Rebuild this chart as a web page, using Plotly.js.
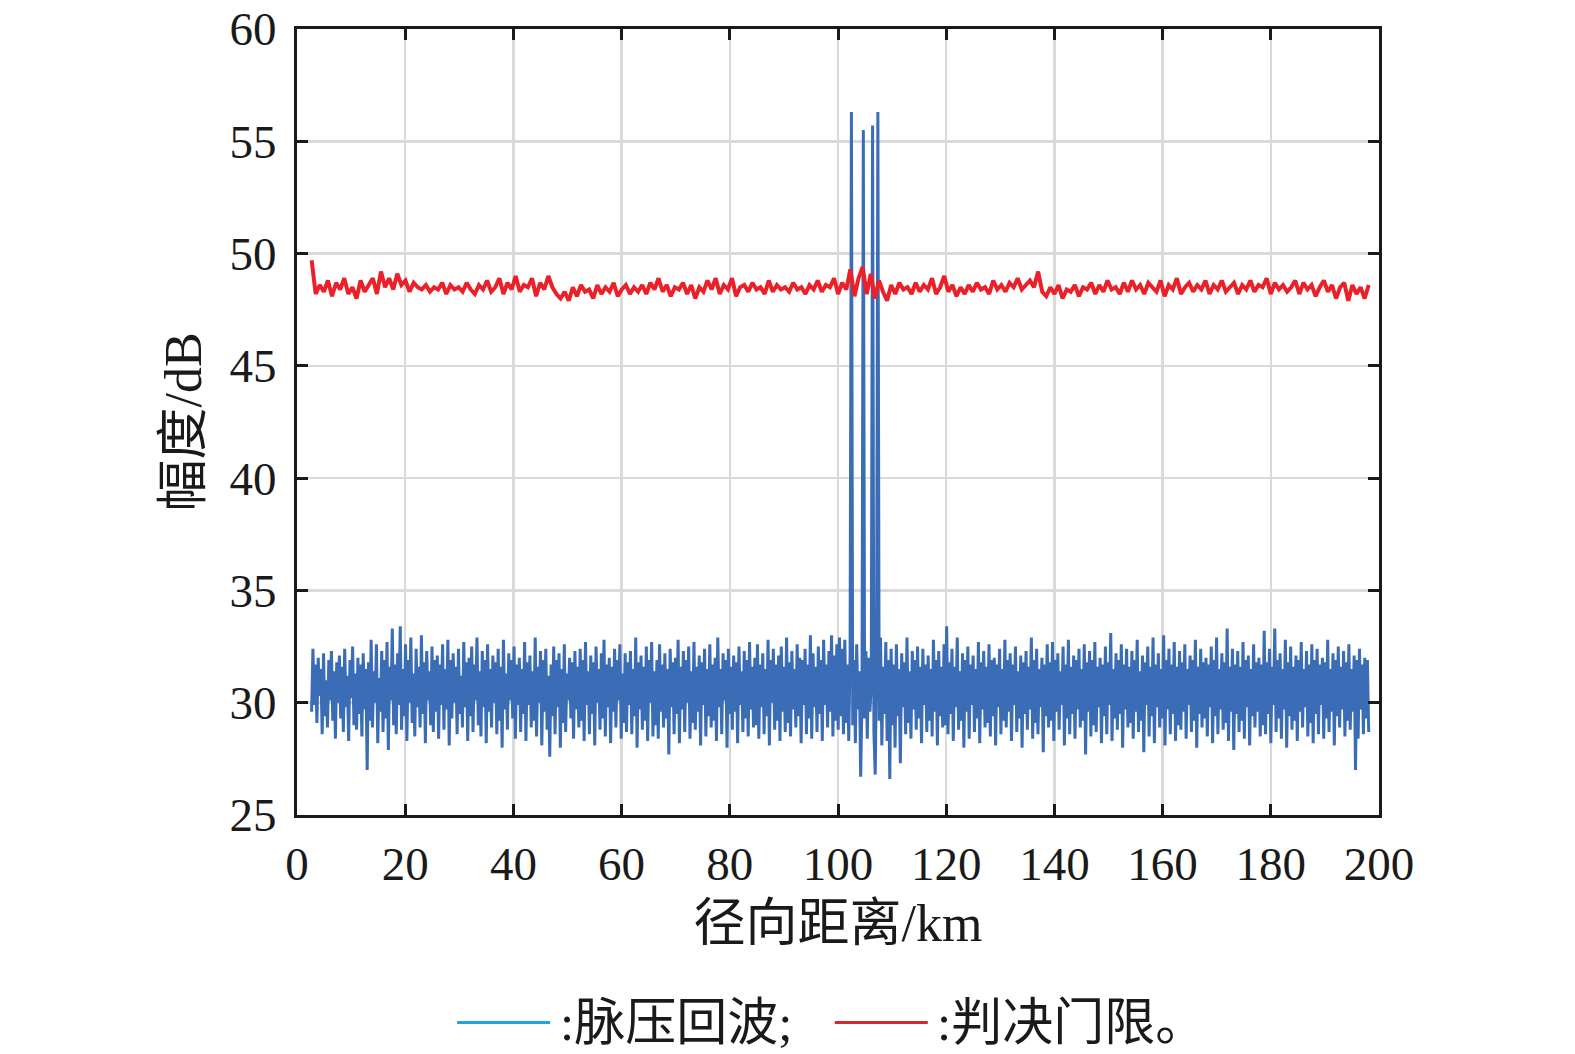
<!DOCTYPE html>
<html>
<head>
<meta charset="utf-8">
<script src="https://cdn.plot.ly/plotly-3.0.1.min.js"></script>
<style>
  html, body { margin: 0; padding: 0; background: #fff; }
  #myDiv { width: 1575px; height: 1054px; }
</style>
</head>
<body>
<div id="myDiv"></div>
<script>
// range span of the samples (km)
var echoStart = 2.7, echoEnd = 198.1;
var threshStart = 2.7, threshEnd = 198.1;

// pulse-compressed echo (dB)
var echoValues = [
  29.6, 32.4, 29.9, 31.7, 29.1, 32.0, 30.3, 31.5, 28.6, 32.2, 29.4, 31.0, 28.9, 31.9, 30.1, 32.3, 29.2, 31.4, 28.4, 31.8,
  30.0, 32.1, 29.3, 31.6, 28.7, 32.4, 29.8, 31.2, 28.3, 31.9, 30.2, 32.5, 29.0, 31.3, 28.8, 32.0, 29.5, 31.7, 28.5, 32.2,
  29.7, 31.5, 27.0, 31.8, 29.2, 32.8, 28.9, 31.4, 30.0, 32.6, 28.2, 31.1, 29.6, 32.3, 28.7, 31.9, 29.3, 32.7, 27.9, 31.6,
  30.1, 33.3, 29.0, 31.7, 28.6, 32.2, 29.9, 33.4, 28.8, 31.5, 29.4, 32.6, 28.3, 31.9, 30.0, 32.9, 29.1, 31.3, 28.5, 32.4,
  29.8, 31.6, 28.9, 33.0, 29.5, 31.8, 28.2, 32.3, 30.1, 31.4, 29.0, 32.5, 28.7, 31.9, 29.6, 32.1, 28.4, 31.7, 29.9, 32.6,
  28.8, 31.5, 29.7, 32.8, 28.1, 31.9, 29.3, 32.2, 30.0, 31.6, 28.6, 32.4, 29.5, 31.2, 28.9, 32.7, 29.8, 31.8, 28.3, 32.0,
  29.4, 32.5, 28.7, 31.7, 30.1, 32.9, 29.0, 31.4, 28.5, 32.3, 29.8, 31.9, 28.2, 32.6, 29.6, 31.5, 28.9, 32.1, 30.0, 31.8,
  28.6, 32.4, 29.2, 31.6, 28.0, 32.8, 29.7, 31.3, 28.8, 32.2, 30.1, 31.9, 29.3, 32.5, 28.4, 31.7, 29.9, 32.0, 28.7, 31.5,
  29.5, 32.7, 28.3, 31.8, 29.9, 32.1, 28.9, 31.4, 29.2, 32.9, 28.5, 31.6, 30.0, 32.3, 28.1, 31.9, 29.6, 32.4, 28.8, 31.2,
  27.6, 31.7, 29.4, 32.5, 28.6, 31.9, 29.8, 32.2, 28.0, 31.5, 29.1, 32.6, 28.7, 31.3, 30.1, 32.0, 29.3, 31.8, 28.4, 32.3,
  29.7, 31.6, 28.9, 32.4, 29.2, 31.9, 28.3, 32.7, 29.9, 31.4, 28.6, 32.1, 29.5, 31.8, 28.1, 32.5, 30.0, 31.5, 28.8, 32.2,
  29.3, 32.8, 28.5, 31.7, 29.8, 32.0, 28.2, 31.6, 29.6, 32.4, 28.9, 31.9, 30.1, 32.6, 28.4, 31.3, 29.1, 32.2, 28.7, 31.8,
  29.9, 32.3, 28.6, 31.5, 29.4, 32.9, 28.0, 31.8, 29.7, 32.1, 28.8, 31.6, 29.2, 32.5, 28.3, 31.9, 30.0, 32.7, 28.5, 31.4,
  29.0, 31.9, 28.4, 32.6, 29.6, 31.7, 28.9, 32.2, 29.3, 31.5, 27.7, 32.4, 29.8, 31.8, 28.6, 32.0, 29.5, 32.8, 28.2, 31.6,
  29.7, 32.3, 28.7, 31.9, 30.0, 32.5, 28.4, 31.4, 29.1, 32.7, 28.8, 31.6, 29.6, 32.1, 28.1, 31.8, 29.9, 32.4, 28.5, 31.5,
  29.4, 32.6, 28.9, 31.7, 29.2, 32.0, 28.3, 32.9, 29.8, 31.5, 28.6, 32.2, 30.1, 31.9, 28.0, 32.4, 29.5, 31.6, 28.8, 32.1,
  29.6, 31.8, 28.2, 32.5, 29.9, 31.4, 28.7, 32.3, 29.3, 31.9, 28.5, 32.7, 29.7, 31.6, 28.9, 32.0, 29.0, 32.6, 28.4, 31.7,
  29.8, 32.2, 28.6, 31.5, 29.4, 32.8, 28.1, 31.9, 30.0, 32.4, 28.8, 31.7, 29.2, 32.1, 28.3, 32.5, 29.6, 31.6, 28.7, 32.9,
  29.1, 31.8, 28.5, 32.3, 29.7, 31.5, 28.9, 32.6, 29.4, 32.0, 28.2, 31.9, 29.9, 32.4, 28.6, 31.7, 29.3, 33.0, 28.4, 32.2,
  29.8, 31.6, 28.7, 32.5, 29.5, 31.9, 28.3, 32.8, 29.9, 31.7, 28.9, 32.3, 29.6, 33.0, 28.5, 32.1, 29.2, 32.6, 28.8, 32.9,
  29.4, 32.4, 28.6, 32.8, 29.1, 31.7, 28.3, 32.2, 56.3, 29.0, 31.9, 28.2, 32.6, 29.7, 31.4, 26.7, 30.2, 55.5, 29.3, 32.3,
  28.4, 32.0, 29.6, 30.8, 55.7, 28.7, 26.8, 31.8, 56.3, 29.2, 32.9, 28.1, 31.6, 29.5, 32.7, 28.3, 31.9, 26.6, 32.4, 29.0,
  31.7, 28.0, 32.6, 29.4, 31.5, 27.3, 32.2, 29.8, 31.8, 28.6, 32.9, 29.1, 31.4, 28.4, 32.3, 29.7, 31.9, 28.8, 32.5, 29.3,
  31.6, 28.2, 32.4, 29.9, 31.7, 28.7, 32.1, 29.2, 31.5, 28.5, 32.8, 29.6, 31.9, 28.1, 32.3, 29.4, 31.6, 28.9, 32.6, 29.0,
  33.4, 28.6, 31.8, 29.5, 32.4, 28.3, 31.6, 29.8, 32.9, 28.8, 31.4, 29.2, 32.2, 28.0, 31.9, 29.6, 32.5, 28.4, 31.7, 29.9,
  32.1, 28.7, 31.5, 29.3, 32.7, 28.2, 31.8, 29.7, 32.3, 28.9, 31.6, 29.1, 32.6, 28.5, 31.9, 29.4, 32.0, 28.1, 31.7, 29.8,
  32.4, 28.6, 31.5, 29.2, 32.8, 28.9, 31.9, 29.6, 32.2, 28.3, 31.7, 29.9, 32.5, 28.7, 31.4, 29.3, 32.1, 28.0, 31.8, 29.5,
  32.3, 28.8, 31.6, 29.7, 32.9, 28.4, 31.9, 29.1, 32.4, 28.6, 31.5, 29.8, 32.0, 27.8, 31.7, 29.4, 32.6, 28.9, 31.8, 29.2,
  32.7, 28.3, 31.9, 29.6, 32.2, 28.8, 31.4, 29.9, 32.5, 28.1, 31.7, 29.3, 32.8, 28.6, 31.6, 29.5, 32.1, 28.4, 31.9, 29.7,
  32.4, 28.9, 31.5, 29.2, 32.6, 27.7, 31.8, 29.6, 32.3, 28.5, 31.9, 29.0, 32.7, 28.7, 31.6, 29.8, 32.0, 28.2, 31.7, 29.4,
  32.5, 28.6, 31.8, 29.9, 33.1, 28.3, 31.5, 29.3, 32.2, 28.8, 31.9, 29.5, 32.6, 28.0, 31.7, 29.7, 32.4, 28.9, 31.6, 29.1,
  32.3, 28.4, 31.9, 29.6, 32.8, 28.7, 31.4, 29.2, 32.1, 27.8, 31.8, 29.9, 32.5, 28.5, 31.6, 29.4, 32.9, 28.2, 31.7, 29.8,
  32.2, 28.9, 31.5, 29.3, 33.0, 28.1, 31.9, 29.7, 32.4, 28.6, 31.7, 29.5, 32.7, 28.3, 31.6, 29.0, 32.3, 28.8, 31.8, 29.6,
  32.6, 28.4, 31.5, 29.9, 32.1, 28.7, 31.9, 29.2, 32.8, 28.0, 31.6, 29.5, 32.4, 28.9, 31.8, 29.3, 32.0, 28.5, 31.7, 29.8,
  32.5, 28.2, 31.9, 29.4, 32.9, 28.6, 31.5, 29.7, 32.2, 28.8, 31.8, 29.1, 33.3, 28.3, 31.6, 29.6, 32.4, 27.9, 31.7, 29.5,
  32.3, 28.7, 31.6, 29.2, 32.7, 28.4, 31.9, 29.8, 32.1, 28.1, 31.5, 29.4, 32.6, 28.9, 31.8, 29.6, 32.0, 28.5, 31.7, 29.0,
  33.2, 28.6, 31.8, 29.5, 32.4, 28.2, 31.6, 29.9, 33.3, 28.7, 31.9, 29.3, 32.2, 28.4, 31.5, 29.7, 32.8, 28.0, 31.8, 29.4,
  32.5, 28.8, 31.6, 29.2, 32.1, 28.3, 31.9, 29.6, 32.7, 28.9, 31.5, 29.8, 32.3, 28.5, 31.7, 29.1, 32.6, 28.2, 31.9, 29.5,
  32.4, 28.6, 31.7, 29.9, 32.0, 28.4, 31.8, 29.3, 32.8, 28.7, 31.5, 29.6, 32.2, 28.1, 31.9, 29.4, 32.5, 28.9, 31.6, 29.7,
  32.3, 28.5, 31.8, 29.2, 32.6, 28.8, 31.5, 29.6, 32.1, 27.0, 31.9, 28.4, 32.4, 29.7, 31.7, 28.6, 32.0, 29.3, 31.9, 28.7
];

// decision threshold (dB)
var threshValues = [
  49.7, 48.2, 48.6, 48.3, 48.8, 48.1, 48.7, 48.4, 48.9, 48.2, 48.5, 48.0, 48.8, 48.3, 48.6, 48.9, 48.2, 49.2, 48.5, 48.9,
  48.4, 49.1, 48.6, 48.8, 48.3, 48.7, 48.5, 48.4, 48.6, 48.3, 48.5, 48.4, 48.7, 48.2, 48.6, 48.4, 48.5, 48.3, 48.7, 48.4,
  48.2, 48.6, 48.4, 48.8, 48.3, 48.5, 48.9, 48.2, 48.7, 48.4, 49.0, 48.3, 48.6, 48.5, 48.9, 48.1, 48.7, 48.4, 49.0, 48.5,
  48.2, 48.0, 48.3, 47.9, 48.5, 48.1, 48.6, 48.3, 48.4, 48.0, 48.6, 48.2, 48.5, 48.3, 48.7, 48.1, 48.4, 48.6, 48.2, 48.5,
  48.3, 48.6, 48.2, 48.7, 48.4, 48.9, 48.3, 48.6, 48.1, 48.5, 48.4, 48.7, 48.2, 48.6, 48.0, 48.5, 48.3, 48.8, 48.4, 48.9,
  48.2, 48.6, 48.4, 48.9, 48.1, 48.5, 48.6, 48.3, 48.7, 48.4, 48.5, 48.2, 48.8, 48.3, 48.6, 48.4, 48.5, 48.3, 48.7, 48.4,
  48.5, 48.2, 48.6, 48.4, 48.8, 48.3, 48.6, 48.5, 48.9, 48.2, 48.7, 48.4, 49.3, 48.1, 48.9, 49.4, 48.2, 49.1, 48.0, 48.8,
  48.3, 47.9, 48.6, 48.2, 48.7, 48.4, 48.5, 48.2, 48.7, 48.3, 48.6, 48.4, 48.9, 48.2, 48.5, 49.0, 48.3, 48.6, 48.1, 48.5,
  48.2, 48.6, 48.3, 48.7, 48.4, 48.5, 48.2, 48.8, 48.4, 48.6, 48.3, 48.7, 48.5, 48.9, 48.4, 48.6, 48.8, 48.5, 49.2, 48.3,
  48.1, 48.5, 48.2, 48.6, 48.0, 48.4, 48.3, 48.6, 48.1, 48.5, 48.4, 48.7, 48.2, 48.6, 48.3, 48.8, 48.4, 48.5, 48.2, 48.7,
  48.3, 48.8, 48.4, 48.6, 48.2, 48.7, 48.5, 48.3, 48.8, 48.1, 48.6, 48.4, 48.9, 48.2, 48.5, 48.7, 48.3, 48.6, 48.4, 48.8,
  48.2, 48.6, 48.4, 48.8, 48.3, 48.5, 48.7, 48.2, 48.6, 48.4, 48.8, 48.3, 48.6, 48.5, 48.9, 48.2, 48.7, 48.4, 48.6, 48.3,
  48.5, 48.8, 48.2, 48.7, 48.4, 48.6, 48.1, 48.5, 48.8, 48.3, 48.6, 48.0, 48.5, 48.7, 47.9, 48.6, 48.2, 48.5, 48.0, 48.6
];

var xTicks = [0, 20, 40, 60, 80, 100, 120, 140, 160, 180, 200];
var yTicks = [25, 30, 35, 40, 45, 50, 55, 60];

var legendNames = [':脉压回波;', ':判决门限。'];

var serif = '"Liberation Serif", "Noto Sans CJK SC", serif';

var echoData = {
    x0: echoStart,
    dx: (echoEnd - echoStart) / (echoValues.length - 1),
    y: echoValues,
    type: 'scatter',
    mode: 'lines',
    line: { color: '#3a6db5', width: 3 },
    name: legendNames[0],
    showlegend: false
};

var threshData = {
    x0: threshStart,
    dx: (threshEnd - threshStart) / (threshValues.length - 1),
    y: threshValues,
    type: 'scatter',
    mode: 'lines',
    line: { color: '#ea2129', width: 4 },
    name: legendNames[1],
    showlegend: false
};

var axisCommon = {
    showline: true,
    linecolor: '#1a1a1a',
    linewidth: 3,
    mirror: 'ticks',
    ticks: 'inside',
    ticklen: 11,
    tickwidth: 3,
    tickcolor: '#1a1a1a',
    showgrid: true,
    gridcolor: '#dadada',
    gridwidth: 2.5,
    zeroline: false,
    tickfont: { family: serif, size: 47, color: '#1a1a1a' }
};

var layout = {
    width: 1575,
    height: 1054,
    margin: { l: 297, r: 196, t: 29, b: 239 },
    paper_bgcolor: '#ffffff',
    plot_bgcolor: '#ffffff',
    font: { family: serif, color: '#1a1a1a' },
    xaxis: Object.assign({}, axisCommon, {
        range: [0, 200],
        tickvals: xTicks,
        ticklabelstandoff: 6,
        title: {
            text: '径向距离/km',
            font: { family: serif, size: 52, color: '#1a1a1a' },
            standoff: 16
        }
    }),
    yaxis: Object.assign({}, axisCommon, {
        range: [25, 60],
        tickvals: yTicks,
        ticklabelstandoff: 8,
        title: {
            text: '幅度/dB',
            font: { family: serif, size: 52, color: '#1a1a1a' },
            standoff: 12
        }
    }),
    shapes: [
        { type: 'line', xref: 'paper', yref: 'paper', x0: 0.148, x1: 0.234, y0: -0.264, y1: -0.264,
          line: { color: '#1fa5dc', width: 3 } },
        { type: 'line', xref: 'paper', yref: 'paper', x0: 0.497, x1: 0.583, y0: -0.264, y1: -0.264,
          line: { color: '#d42a2f', width: 3 } }
    ],
    annotations: [
        { xref: 'paper', yref: 'paper', x: 0.241, y: -0.264, xanchor: 'left', yanchor: 'middle',
          text: legendNames[0], showarrow: false, font: { family: serif, size: 51, color: '#1a1a1a' } },
        { xref: 'paper', yref: 'paper', x: 0.590, y: -0.264, xanchor: 'left', yanchor: 'middle',
          text: legendNames[1], showarrow: false, font: { family: serif, size: 51, color: '#1a1a1a' } }
    ]
};

var data = [echoData, threshData];

Plotly.newPlot('myDiv', data, layout, { staticPlot: true });
</script>
</body>
</html>
